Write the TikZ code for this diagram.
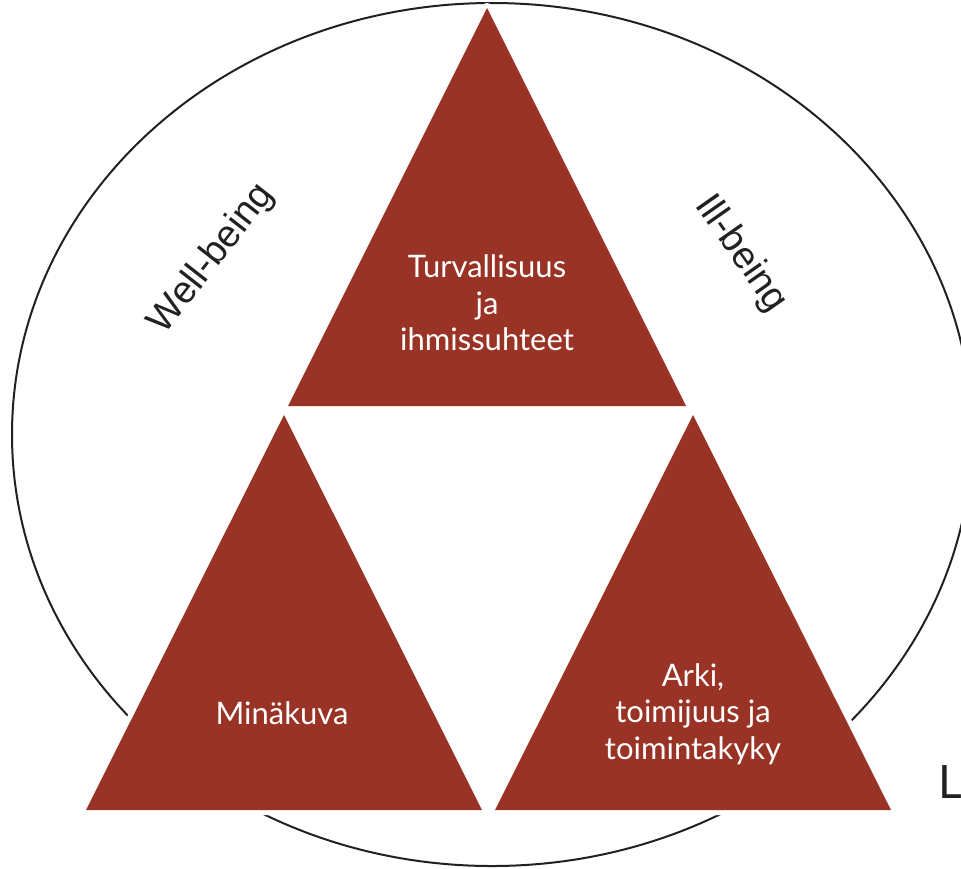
\documentclass[tikz,border=0pt]{standalone}
\usepackage{fontspec}
\setmainfont{Lato}
\newfontfamily\arialfont{Liberation Sans}
\usepackage{tkz-euclide}
\definecolor{TriClr}{rgb}{0.6,0.2,0.145}
\definecolor{RimClr}{rgb}{0.13,0.13,0.13}

\begin{document}
\begin{tikzpicture}[x=0.5pt,y=-0.5pt,
  tritext/.style={text=white,align=center,inner sep=0pt,
    font=\fontsize{15.5}{18.25}\selectfont},
  sidetext/.style={text=RimClr,inner sep=0pt,font=\arialfont\fontsize{19}{22}\selectfont}]
\useasboundingbox (0,0) rectangle (961,868);

\tkzDefPoints{487/8/T1,288/406/T2,686/406/T3,
  284/415/L1,86/810/L2,482/810/L3,
  693/415/R1,495/810/R2,891/810/R3,
  492/434.5/O}

% the rim
\draw[RimClr,line width=1pt] (O) ellipse [x radius=480,y radius=431.5];

% white edges cut the rim, then the red faces
\tkzDrawPolygon[white,line width=5pt](T1,T2,T3)
\tkzDrawPolygon[white,line width=5pt](L1,L2,L3)
\tkzDrawPolygon[white,line width=5pt](R1,R2,R3)
\tkzFillPolygon[fill=TriClr](T1,T2,T3)
\tkzFillPolygon[fill=TriClr](L1,L2,L3)
\tkzFillPolygon[fill=TriClr](R1,R2,R3)

\node[tritext] (txtTop) at (487,303) {Turvallisuus\\ja\\ihmissuhteet};
\node[tritext] (txtLeft) at (282,713) {Minäkuva};
\node[tritext] (txtRight) at (693,714) {Arki,\\toimijuus ja\\toimintakyky};

\node[sidetext,rotate=52] (well) at (212,259) {Well-being};
\node[sidetext,rotate=-55] (ill) at (741,254) {Ill-being};

\node[anchor=base west,inner sep=0pt,text=RimClr,font=\fontsize{23}{26}\selectfont] (cut) at (938,798) {L};

\end{tikzpicture}
\end{document}
